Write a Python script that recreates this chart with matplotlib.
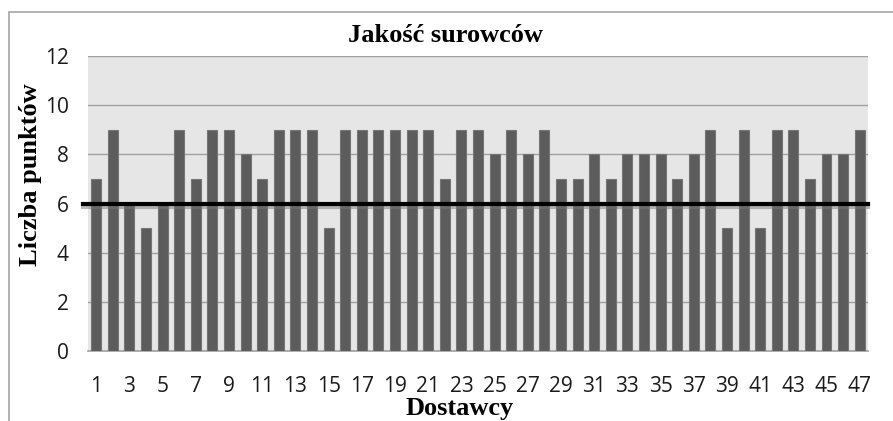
import matplotlib.pyplot as plt
import matplotlib.patheffects as pe
from matplotlib.patches import Rectangle

# Dane: punkty za jakość surowców dla 47 dostawców
dostawcy = list(range(1, 48))
punkty = [7, 9, 6, 5, 6, 9, 7, 9, 9, 8, 7, 9, 9, 9, 5, 9, 9, 9, 9, 9, 9,
          7, 9, 9, 8, 9, 8, 9, 7, 7, 8, 7, 8, 8, 8, 7, 8, 9, 5, 9, 5, 9,
          9, 7, 8, 8, 9]
prog = 6
y_ticks = [0, 2, 4, 6, 8, 10, 12]

serif = 'Liberation Serif'
sans = 'Open Sans'

fig = plt.figure(figsize=(8.93, 4.21), dpi=100)
ax = fig.add_axes([0.0985, 0.166, 0.8735, 0.701])

# outer frame of the chart
fig.patches.append(Rectangle((0.0105, -0.1), 1.2, 1.0715, transform=fig.transFigure,
                             fill=False, edgecolor='#a6a6a6', lw=1.2))

ax.set_facecolor('#e6e6e6')
ax.bar(dostawcy, punkty, width=0.6, color='#5c5c5c', edgecolor='#767676',
       linewidth=0.8, zorder=3)

# threshold line with a soft shadow
ax.plot([0.2, 47.5], [prog, prog], color='black', lw=3, zorder=4, clip_on=False,
        path_effects=[pe.SimpleLineShadow(offset=(0, -2.5), shadow_color='#777777', alpha=0.5),
                      pe.Normal()])

ax.set_xlim(0.5, 47.5)
ax.set_ylim(0, 12)
ax.set_yticks(y_ticks)
ax.set_xticks(dostawcy[::2])
ax.yaxis.grid(True, color='#a0a0a0', lw=1, zorder=1)
ax.set_axisbelow(True)
for s in ['top', 'right', 'left']:
    ax.spines[s].set_visible(False)
ax.spines['bottom'].set_color('#a0a0a0')
ax.spines['bottom'].set_linewidth(1.2)
ax.tick_params(axis='both', length=0, labelsize=15, labelcolor='#1a1a1a')
ax.tick_params(axis='x', pad=18)
ax.tick_params(axis='y', pad=14)
for lab in ax.get_xticklabels() + ax.get_yticklabels():
    lab.set_family(sans)

fig.text(0.4985, 0.915, 'Jakość surowców', ha='center', va='center',
         family=serif, fontweight='bold', fontsize=19)
fig.text(0.515, 0.03, 'Dostawcy', ha='center', va='center',
         family=serif, fontweight='bold', fontsize=19)
fig.text(0.034, 0.585, 'Liczba punktów', ha='center', va='center', rotation=90,
         family=serif, fontweight='bold', fontsize=19)

fig.savefig('out.png', dpi=100)
